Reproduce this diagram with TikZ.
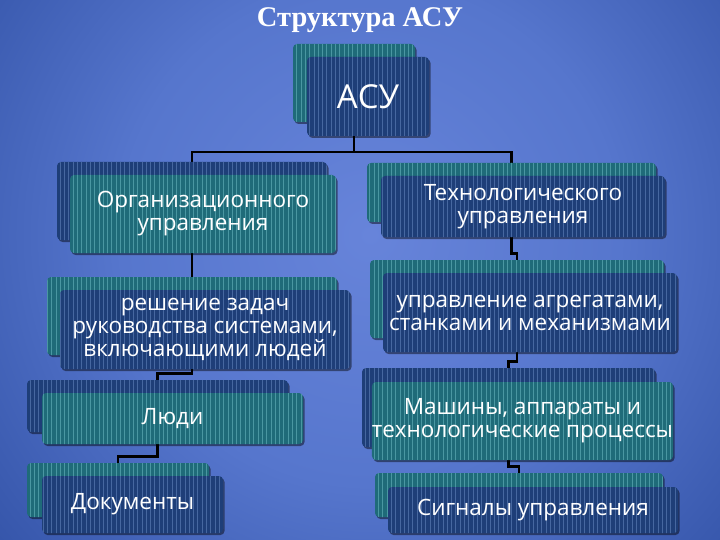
\documentclass[tikz,border=0pt]{standalone}
\usepackage{fontspec}
\setmainfont{Open Sans}
\newfontfamily\titlefont{Liberation Serif}
\usetikzlibrary{patterns.meta,shadows}

\definecolor{tealbox}{HTML}{1F6B79}
\definecolor{tealline}{HTML}{4A97A2}
\definecolor{bluebox}{HTML}{1E3E78}
\definecolor{blueline}{HTML}{4667A0}
\definecolor{bgin}{HTML}{6784DA}
\definecolor{bgmid}{HTML}{5676CD}
\definecolor{bgedge}{HTML}{2E4EA2}
\definecolor{bgout}{HTML}{1E3C85}
\pgfdeclareradialshading{bgglow}{\pgfpoint{0bp}{0bp}}{color(0bp)=(bgin); color(13bp)=(bgmid); color(28bp)=(bgedge); color(50bp)=(bgout)}

\pgfdeclarelayer{bglayer}
\pgfdeclarelayer{linklayer}
\pgfsetlayers{bglayer,linklayer,main}

\begin{document}
\begin{tikzpicture}[x=1pt,y=-1pt]
    \tikzset{tile/.style={rounded corners=4pt,inner sep=0pt,text=white,align=center,
        font=\fontsize{22.5}{23}\selectfont,
        drop shadow={shadow xshift=1.5pt,shadow yshift=-2pt,opacity=0.45,fill=black}}}
    \tikzset{tealtile/.style={tile,preaction={fill=tealbox},pattern color=tealline,
        pattern={Lines[angle=90,distance=4.3pt,line width=0.7pt]}}}
    \tikzset{bluetile/.style={tile,preaction={fill=bluebox},pattern color=blueline,
        pattern={Lines[angle=90,distance=4.3pt,line width=0.7pt]}}}
    \tikzset{link/.style={line width=2.8pt,black,line join=miter}}

    \useasboundingbox (0,0) rectangle (720,540);
    \begin{pgfonlayer}{bglayer}
        \begin{scope}
            \clip (0,0) rectangle (720,540);
            \shade[shading=bgglow] (370,235) circle[radius=480];
        \end{scope}
    \end{pgfonlayer}

    \node[text=white,font=\titlefont\bfseries\fontsize{28.5}{32}\selectfont] (title) at (360,20) {Структура АСУ};

    % root
    \node[tealtile,minimum width=122pt,minimum height=78pt] (asuB) at (354,83) {};
    \node[bluetile,minimum width=122pt,minimum height=79pt,font=\fontsize{33}{36}\selectfont] (asu) at (368,96.5) {АСУ};

    % left branch
    \node[bluetile,minimum width=270pt,minimum height=78pt] (orgB) at (192,201) {};
    \node[tealtile,minimum width=266pt,minimum height=78pt] (org) at (203,214) {Организационного\\управления};

    \node[tealtile,minimum width=290pt,minimum height=78pt] (reshB) at (192,316) {};
    \node[bluetile,minimum width=290pt,minimum height=79pt] (resh) at (205,329.5) {решение задач\\руководства системами,\\включающими людей};

    \node[bluetile,minimum width=261pt,minimum height=52pt] (lyudiB) at (157.5,406) {};
    \node[tealtile,minimum width=261pt,minimum height=51pt] (lyudi) at (172.5,418.5) {Люди};

    \node[tealtile,minimum width=182pt,minimum height=54pt] (dokB) at (118,490) {};
    \node[bluetile,minimum width=181pt,minimum height=57pt] (dok) at (132.5,504.5) {Документы};

    % right branch
    \node[tealtile,minimum width=289pt,minimum height=59pt] (techB) at (511.5,192.5) {};
    \node[bluetile,minimum width=284pt,minimum height=61pt] (tech) at (523,206.5) {Технологического\\управления};

    \node[tealtile,minimum width=294pt,minimum height=78pt] (uprB) at (517,299) {};
    \node[bluetile,minimum width=294pt,minimum height=79pt] (upr) at (530,312.5) {управление агрегатами,\\станками и механизмами};

    \node[bluetile,minimum width=293pt,minimum height=79pt] (mashB) at (508.5,407.5) {};
    \node[tealtile,minimum width=295pt,minimum height=78pt] (mash) at (522.5,421) {Машины, аппараты и\\технологические процессы};

    \node[tealtile,minimum width=288pt,minimum height=44pt] (sigB) at (519,495) {};
    \node[bluetile,minimum width=290pt,minimum height=46pt] (sig) at (533,510) {Сигналы управления};

    \begin{pgfonlayer}{linklayer}
        \coordinate (split) at (354,152);
        \draw[link] (asuB.south) -- (split);
        \draw[link] (orgB.north) -- (orgB.north |- split) -- (techB.north |- split) -- (techB.north);
        \draw[link] (orgB.south) |- ([yshift=6pt]reshB.north) -- (reshB.north);
        \draw[link] (reshB.south) |- ([yshift=6pt]lyudiB.north) -- (lyudiB.north);
        \draw[link] (lyudiB.south) |- ([yshift=6pt]dokB.north) -- (dokB.north);
        \draw[link] (techB.south) |- ([yshift=6pt]uprB.north) -- (uprB.north);
        \draw[link] (uprB.south) |- ([yshift=6pt]mashB.north) -- (mashB.north);
        \draw[link] (mashB.south) |- ([yshift=6pt]sigB.north) -- (sigB.north);
    \end{pgfonlayer}
\end{tikzpicture}
\end{document}
